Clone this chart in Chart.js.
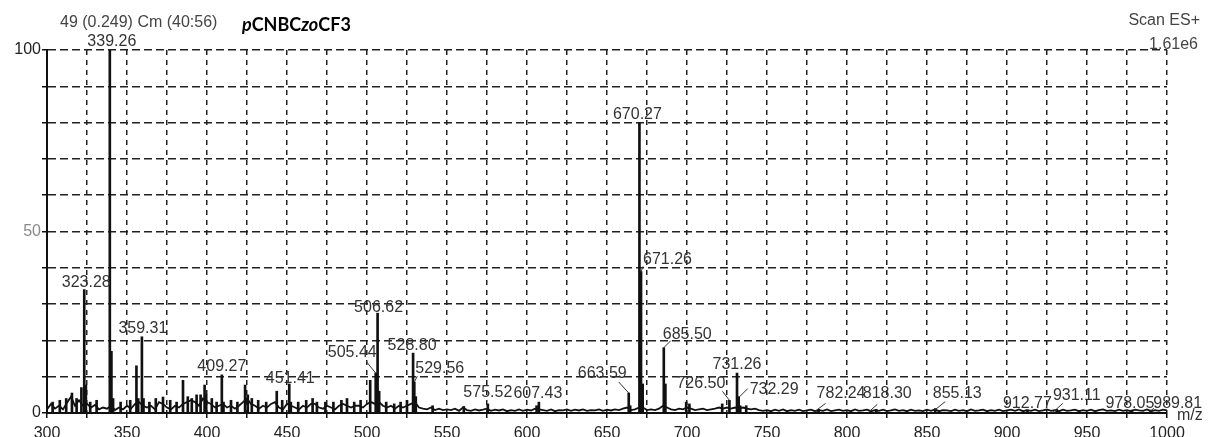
<!DOCTYPE html>
<html>
<head>
<meta charset="utf-8">
<title>pCNBCzoCF3 ES+ mass spectrum</title>
<script src="https://cdn.jsdelivr.net/npm/chart.js@4.4.1/dist/chart.umd.min.js"></script>
<style>
  html, body { margin: 0; padding: 0; background: #fff; overflow: hidden; }
  #wrap { width: 1208px; height: 437px; position: relative; }
  canvas { display: block; }
</style>
</head>
<body>
<div id="wrap"><canvas id="ms" width="1208" height="437"></canvas></div>
<script>
// ---- axis ranges and tick labels ----
const mzMin = 300;
const mzMax = 1000;
const mzTickLabels = ['300', '350', '400', '450', '500', '550', '600', '650', '700', '750', '800', '850', '900', '950', '1000'];
const intensityTickLabels = ['0', '50', '100'];

// ---- annotated peaks (m/z, relative intensity %) ----
const labelledMz = [323.28, 339.26, 359.31, 409.27, 451.41, 505.44, 506.62, 528.80, 529.56,
  575.52, 607.43, 663.59, 670.27, 671.26, 685.50, 726.50, 731.26, 732.29,
  782.24, 818.30, 855.13, 912.77, 931.11, 978.05, 989.81];
const labelledIntensity = [34, 100, 21, 10.5, 8, 11, 27.5, 16.5, 8.5,
  2.5, 3, 5.5, 80, 39, 18, 3.5, 11, 4.5,
  1, 1, 1.2, 0.8, 1, 0.8, 0.8];

// ---- unannotated peaks ----
const minorMz = [303.5, 308.0, 312.0, 315.6, 318.5, 321.5, 324.3, 327.0, 331.0, 340.26,
  341.3, 346.0, 352.0, 355.9, 357.0, 360.3, 364.0, 368.0, 372.5, 377.0,
  381.0, 385.0, 388.0, 390.5, 393.5, 396.0, 398.5, 399.5, 403.0, 406.0,
  410.3, 415.0, 419.0, 423.8, 425.5, 428.0, 432.0, 437.0, 443.6, 447.0,
  452.4, 457.0, 462.0, 466.0, 468.7, 474.0, 479.0, 484.0, 487.5, 492.0,
  496.0, 502.0, 507.6, 512.0, 517.0, 521.0, 525.0, 530.5, 541.0, 560.5,
  606.0, 664.5, 672.3, 686.5, 699.5, 701.5, 722.0, 733.3, 737.0];
const minorIntensity = [3, 3.5, 4, 5.5, 4, 7, 7.7, 3, 3.5, 17,
  4, 3, 3.5, 13, 4, 4, 3, 4, 4.4, 3.5,
  3, 9, 4.5, 4, 5, 5, 7.7, 5, 4, 3,
  3, 3.5, 3, 7.7, 5, 4, 3.5, 3, 6, 3.5,
  3, 3, 3.5, 4, 3, 3, 3, 3.5, 4, 3,
  3.5, 9, 6, 3, 2.5, 3, 3.5, 4.5, 2, 1.8,
  2, 2, 8, 8, 3, 2.5, 2.5, 2, 2];

// ---- baseline trace, one reading every 2.5 m/z from 300 to 1000 ----
const baselineStart = 300;
const baselineStep = 2.5;
const baselineIntensity = [
  1.0, 2.5, 1.2, 2.0, 1.0, 2.8, 4.5, 2.0, 3.5, 2.0, 2.5, 1.5, 2.2, 1.0, 1.5, 1.2, 2.0, 0.8, 1.5, 1.0,
  2.0, 1.2, 2.5, 3.0, 2.0, 1.5, 2.0, 1.0, 3.0, 2.5, 1.5, 1.0, 2.0, 1.5, 2.5, 3.0, 3.5, 3.0, 2.0, 4.0,
  3.0, 2.5, 1.5, 2.0, 2.5, 1.5, 2.0, 1.2, 2.0, 3.0, 4.0, 2.5, 2.0, 1.2, 2.0, 1.5, 2.5, 3.0, 1.5, 1.0,
  2.5, 2.0, 1.5, 1.0, 2.0, 1.5, 2.5, 2.5, 1.5, 1.2, 2.0, 1.5, 1.0, 2.0, 2.5, 2.0, 1.5, 2.0, 2.0, 1.5,
  2.5, 3.0, 2.5, 3.0, 2.0, 1.5, 2.0, 1.2, 2.0, 1.5, 2.0, 2.5, 3.0, 1.5, 1.2, 1.0, 1.5, 0.8, 1.2, 0.8,
  1.0, 0.8, 1.2, 0.6, 1.5, 0.8, 0.6, 1.0, 0.7, 0.9, 1.2, 0.6, 0.9, 0.7, 1.0, 0.5, 0.8, 0.6, 1.0, 0.6,
  0.9, 0.7, 1.2, 1.0, 0.8, 0.6, 1.0, 0.5, 0.8, 0.7, 1.0, 0.6, 0.9, 0.7, 1.0, 0.6, 0.8, 0.7, 1.0, 0.6,
  0.9, 0.7, 1.0, 0.8, 1.2, 1.5, 0.8, 1.0, 1.5, 1.5, 0.8, 1.0, 0.8, 1.2, 2.0, 1.5, 1.0, 0.8, 1.2, 1.0,
  1.5, 1.2, 0.8, 1.0, 1.2, 0.8, 1.0, 1.2, 1.5, 1.2, 1.5, 1.2, 1.5, 1.2, 1.5, 1.2, 1.0, 1.2, 0.8, 0.6,
  0.8, 0.5, 0.9, 0.6, 1.0, 0.5, 0.8, 0.6, 0.9, 0.5, 0.7, 0.9, 0.5, 0.8, 0.6, 1.0, 0.5, 0.7, 0.9, 0.6,
  0.8, 0.5, 1.0, 0.6, 0.7, 0.9, 0.5, 0.8, 0.6, 0.9, 0.5, 0.7, 1.0, 0.6, 0.8, 0.5, 0.9, 0.6, 0.7, 0.5,
  0.9, 0.6, 1.0, 0.5, 0.8, 0.7, 0.5, 0.9, 0.6, 0.8, 0.5, 1.0, 0.6, 0.7, 0.9, 0.5, 0.8, 0.6, 0.9, 0.5,
  0.7, 0.9, 0.6, 1.0, 0.5, 0.8, 0.6, 0.9, 0.5, 0.7, 1.0, 0.6, 0.8, 0.5, 0.9, 0.6, 0.7, 0.9, 0.5, 0.8,
  0.6, 0.9, 0.5, 0.8, 1.0, 0.6, 0.7, 0.5, 0.9, 0.6, 0.8, 0.5, 0.9, 0.7, 0.6, 1.0, 0.5, 0.8, 0.6, 0.9,
  0.7
];

// ---- header text ----
const scanInfo = '49 (0.249) Cm (40:56)';
const sampleNameParts = [['p', true], ['CNBC', false], ['zo', true], ['CF3', false]];
const scanMode = 'Scan ES+';
const basePeakCount = '1.61e6';
const mzAxisTitle = 'm/z';

// ---- where each peak label sits relative to its peak top (px) ----
// dx/dy: text anchor offset; align: text alignment; leader: [x1, y1, x2, y2] offsets
const labelPlacement = {
  '323.28': { dx: 2, dy: -7 },
  '339.26': { dx: 2, dy: -8 },
  '359.31': { dx: 1, dy: -8 },
  '409.27': { dx: 0, dy: -8 },
  '451.41': { dx: 1, dy: -5 },
  '505.44': { dx: 1, dy: -20, align: 'right', leader: [-9, -11, 0, 0] },
  '506.62': { dx: 1, dy: -6 },
  '528.80': { dx: -1, dy: -8 },
  '529.56': { dx: 1, dy: -14, align: 'left', leader: [3, -6, 0, 0] },
  '575.52': { dx: 0, dy: -11 },
  '607.43': { dx: -1, dy: -9 },
  '663.59': { dx: -2, dy: -19, align: 'right', leader: [-10, -11, 0, 0] },
  '670.27': { dx: -2, dy: -8 },
  '671.26': { dx: 2, dy: -12, align: 'left', leader: [2, -5, 0, 0] },
  '685.50': { dx: -1, dy: -13, align: 'left', leader: [7, -7, 0, 0] },
  '726.50': { dx: -4, dy: -17, align: 'right', leader: [-7, -9, 0, 0] },
  '731.26': { dx: 0, dy: -8 },
  '732.29': { dx: 11, dy: -7, align: 'left', leader: [9, -8, 1, 0] },
  '782.24': { dx: -2, dy: -16, align: 'left', leader: [7, -6, -5, 3] },
  '818.30': { dx: 11, dy: -16, leader: [1, -5, -8, 3] },
  '855.13': { dx: 22, dy: -15, leader: [10, -7, 0, 1] },
  '912.77': { dx: 0, dy: -7 },
  '931.11': { dx: 20, dy: -14, leader: [6, -6, -4, 3] },
  '978.05': { dx: -2, dy: -7 },
  '989.81': { dx: 27, dy: -7, leader: [3, -2, 0, 1] }
};

const textFont = '"Liberation Sans", Arial, Helvetica, sans-serif';
const inkColor = '#111';
const textColor = '#333';

// ---- chart data built from the arrays above ----
const peakPoints = labelledMz.map((mz, i) => ({ x: mz, y: labelledIntensity[i] }))
  .concat(minorMz.map((mz, i) => ({ x: mz, y: minorIntensity[i] })));
const baselinePoints = baselineIntensity.map((v, i) => ({ x: baselineStart + i * baselineStep, y: v }));

// peak labels, leader lines and header text
const spectrumText = {
  id: 'spectrumText',
  afterDatasetsDraw(chart) {
    const { ctx, scales: { x, y } } = chart;
    ctx.save();
    ctx.font = '16px ' + textFont;
    ctx.fillStyle = textColor;
    ctx.strokeStyle = textColor;
    ctx.lineWidth = 1;
    ctx.textBaseline = 'middle';
    labelledMz.forEach((mz, i) => {
      const px = x.getPixelForValue(mz);
      const py = y.getPixelForValue(labelledIntensity[i]);
      const text = mz.toFixed(2);
      const p = labelPlacement[text] || { dx: 0, dy: -8 };
      if (p.leader) {
        ctx.beginPath();
        ctx.moveTo(px + p.leader[0], py + p.leader[1]);
        ctx.lineTo(px + p.leader[2], py + p.leader[3]);
        ctx.stroke();
      }
      ctx.textAlign = p.align || 'center';
      ctx.fillText(text, px + p.dx, py + p.dy);
    });

    // axis title at the end of the m/z axis
    ctx.textAlign = 'left';
    ctx.fillText(mzAxisTitle, x.right + 10, y.bottom + 3);

    // header line
    const area = chart.chartArea;
    ctx.fillStyle = '#444';
    ctx.textAlign = 'left';
    ctx.fillText(scanInfo, area.left + 13, 23);
    ctx.textAlign = 'right';
    ctx.fillText(scanMode, 1200, 21);
    ctx.fillText(basePeakCount, 1198, 45);

    // sample name, bold with italic parts
    let cx = 242;
    ctx.fillStyle = '#000';
    ctx.textAlign = 'left';
    sampleNameParts.forEach(([part, italic]) => {
      ctx.font = (italic ? 'italic ' : '') + 'bold 18px Lato, "Open Sans", sans-serif';
      ctx.fillText(part, cx, 25);
      cx += ctx.measureText(part).width;
    });
    ctx.restore();
  }
};

new Chart(document.getElementById('ms'), {
  type: 'bar',
  data: {
    datasets: [
      {
        type: 'line',
        data: baselinePoints,
        borderColor: inkColor,
        borderWidth: 1.8,
        pointRadius: 0,
        tension: 0,
        order: 2
      },
      {
        type: 'bar',
        data: peakPoints,
        backgroundColor: inkColor,
        barThickness: 2,
        grouped: false,
        order: 1
      }
    ]
  },
  options: {
    responsive: false,
    devicePixelRatio: 1,
    animation: false,
    layout: { padding: { top: 50, right: 41, left: 0, bottom: 0 } },
    plugins: { legend: { display: false }, tooltip: { enabled: false } },
    scales: {
      x: {
        type: 'linear',
        min: mzMin,
        max: mzMax,
        offset: false,
        afterFit(scale) { scale.height = 24; },
        ticks: {
          stepSize: 25,
          autoSkip: false,
          maxRotation: 0,
          padding: 6,
          color: '#222',
          font: { family: textFont, size: 16 },
          callback: v => mzTickLabels.includes(String(v)) ? String(v) : ''
        },
        grid: {
          offset: false,
          color: '#222',
          lineWidth: 1.5,
          drawTicks: true,
          tickLength: 5,
          tickColor: inkColor,
          tickWidth: 1.5
        },
        border: { display: true, color: inkColor, width: 2, dash: [5, 5] }
      },
      y: {
        min: 0,
        max: 100,
        afterFit(scale) { scale.width = 47; },
        ticks: {
          stepSize: 10,
          autoSkip: false,
          padding: 1,
          color: ctx => (ctx.tick && ctx.tick.value === 50) ? '#8a8a8a' : '#222',
          font: { family: textFont, size: 16 },
          callback: v => intensityTickLabels.includes(String(v)) ? String(v) : ''
        },
        grid: {
          color: '#222',
          lineWidth: 1.5,
          drawTicks: true,
          tickLength: 5,
          tickColor: inkColor,
          tickWidth: 1.5
        },
        border: { display: true, color: inkColor, width: 2, dash: [8, 4] }
      }
    }
  },
  plugins: [spectrumText]
});
</script>
</body>
</html>
